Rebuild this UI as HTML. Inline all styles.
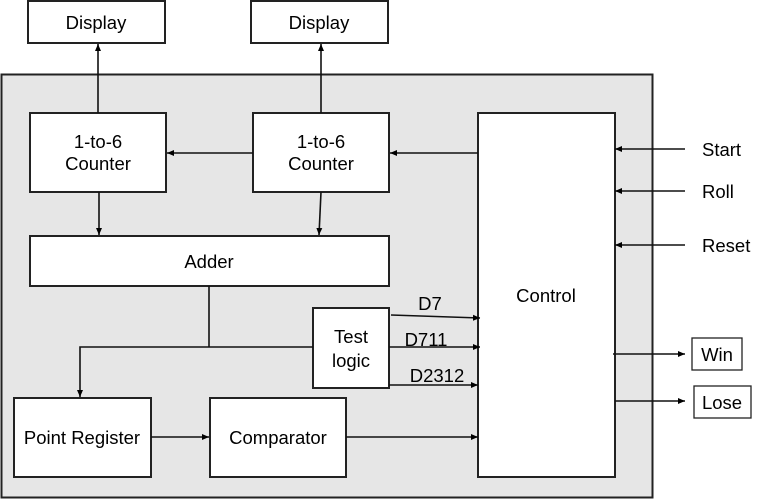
<!DOCTYPE html>
<html><head><meta charset="utf-8"><style>
html,body{margin:0;padding:0;background:#fff}
svg{display:block}
text{font-family:"Liberation Sans",sans-serif;font-size:18.5px;fill:#000}
</style></head><body>
<svg width="764" height="500" viewBox="0 0 764 500" xmlns="http://www.w3.org/2000/svg">
<defs>
<marker id="a" markerWidth="8" markerHeight="8" refX="7" refY="4" orient="auto" markerUnits="userSpaceOnUse">
<path d="M0,1 L7,4 L0,7 z" fill="#000"/></marker>
</defs>
<rect x="1.5" y="74.5" width="651" height="423" fill="#e6e6e6" stroke="#222" stroke-width="2"/>
<g fill="#fff" stroke="#222" stroke-width="2">
<rect x="28" y="1" width="137" height="42"/>
<rect x="251" y="1" width="137" height="42"/>
<rect x="30" y="113" width="136" height="79"/>
<rect x="253" y="113" width="136" height="79"/>
<rect x="30" y="236" width="359" height="50"/>
<rect x="478" y="113" width="137" height="364"/>
<rect x="313" y="308" width="76" height="80"/>
<rect x="14" y="398" width="137" height="79"/>
<rect x="210" y="398" width="136" height="79"/>
<rect x="692" y="338" width="50" height="32" stroke-width="1.3"/>
<rect x="694" y="386" width="57" height="32" stroke-width="1.3"/>
</g>
<g stroke="#111" stroke-width="1.6" fill="none" marker-end="url(#a)">
<line x1="98" y1="113" x2="98" y2="44"/>
<line x1="321" y1="113" x2="321" y2="44"/>
<line x1="253" y1="153" x2="167" y2="153"/>
<line x1="478" y1="153" x2="390" y2="153"/>
<line x1="99" y1="192" x2="99" y2="235"/>
<line x1="321" y1="192" x2="319" y2="235"/>
<polyline points="313,347 80,347 80,397"/>
<line x1="151" y1="437" x2="209" y2="437"/>
<line x1="346" y1="437" x2="478" y2="437"/>
<line x1="391" y1="315" x2="480" y2="318"/>
<line x1="389" y1="347" x2="480" y2="347"/>
<line x1="389" y1="385" x2="478" y2="385"/>
<line x1="685" y1="149" x2="615" y2="149"/>
<line x1="685" y1="191" x2="615" y2="191"/>
<line x1="685" y1="245" x2="615" y2="245"/>
<line x1="613" y1="354" x2="685" y2="354"/>
<line x1="615" y1="401" x2="685" y2="401"/>
</g>
<line x1="209" y1="286" x2="209" y2="347" stroke="#111" stroke-width="1.6"/>
<g text-anchor="middle">
<text x="96" y="29">Display</text>
<text x="319" y="29">Display</text>
<text x="98" y="148">1-to-6</text>
<text x="98" y="170">Counter</text>
<text x="321" y="148">1-to-6</text>
<text x="321" y="170">Counter</text>
<text x="209" y="268">Adder</text>
<text x="546" y="302">Control</text>
<text x="351" y="343">Test</text>
<text x="351" y="367">logic</text>
<text x="82" y="444">Point Register</text>
<text x="278" y="444">Comparator</text>
<text x="430" y="310">D7</text>
<text x="426" y="346">D711</text>
<text x="437" y="382">D2312</text>
<text x="717" y="361">Win</text>
<text x="722" y="409">Lose</text>
</g>
<text x="702" y="156">Start</text>
<text x="702" y="198">Roll</text>
<text x="702" y="252">Reset</text>
</svg>
</body></html>
